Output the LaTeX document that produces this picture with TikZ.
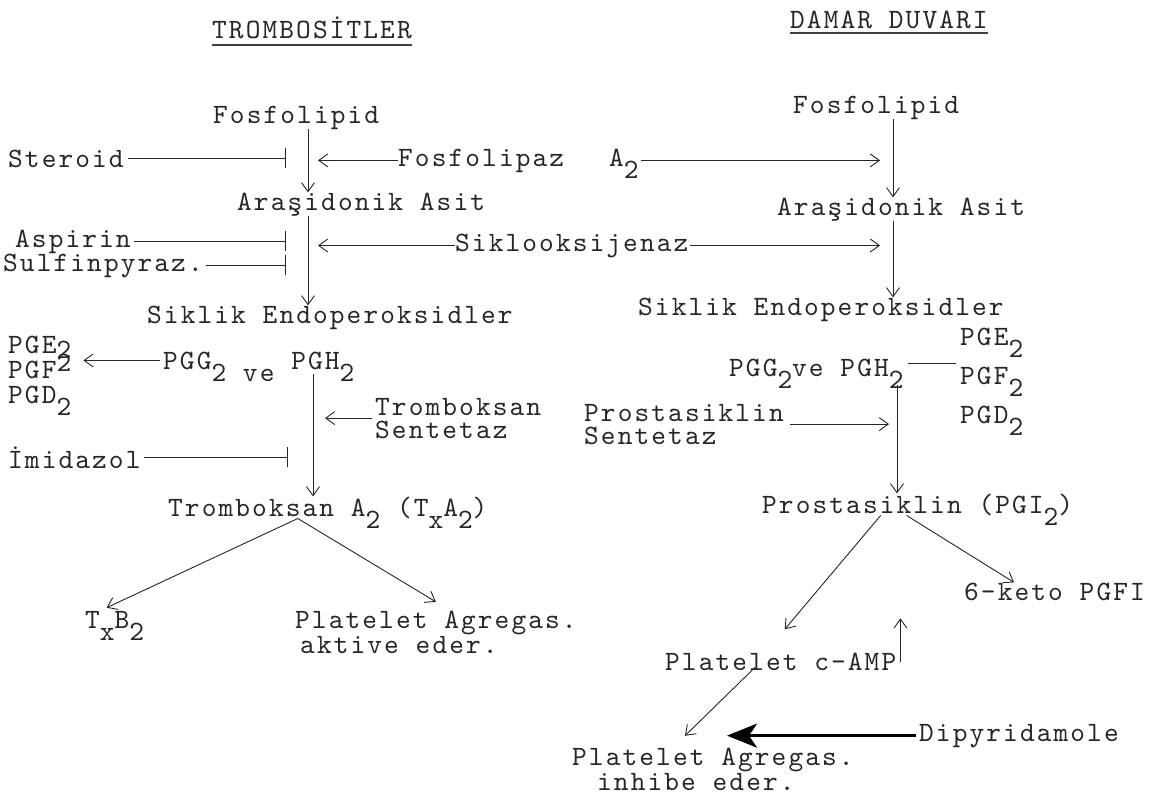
\documentclass[tikz,border=0pt]{standalone}
\usepackage{fontspec}
\usepackage{tikz}
\usetikzlibrary{arrows.meta}
\newfontfamily\tw{lmmono10-regular.otf}[LetterSpace=7.5]
\newcommand\dn[1]{\raisebox{-0.45em}[0pt][0pt]{#1}}
\newcommand\lo[1]{\raisebox{-0.2em}[0pt][0pt]{#1}}
\newcommand\up[1]{\raisebox{0.22em}[0pt][0pt]{#1}}

\begin{document}
\begin{tikzpicture}[x=1pt,y=-1pt,
  txt/.style={font=\tw\fontsize{28}{23}\selectfont,
              text=black!85, inner sep=0pt, anchor=base west, align=left},
  arrow/.style={-{Straight Barb[length=9pt,width=13pt]}, line width=0.9pt, black!85},
  block/.style={-{Bar[width=20pt]}, line width=0.9pt, black!85},
  heavy/.style={-{Stealth[length=30pt,width=24pt,inset=8pt]}, line width=3.5pt},
  plain/.style={line width=0.9pt, black!85},
  uline/.style={line width=1.6pt, black!75}
]
\useasboundingbox (0,0) rectangle (1164,798);
\coordinate (cL) at (308,0);  \coordinate (cL2) at (313,0);
\coordinate (cR) at (893,0);  \coordinate (cR2) at (897,0);
\coordinate (barA) at (286,0); \coordinate (barB) at (288,0);
\coordinate (tipL) at (318,0); \coordinate (tipL2) at (325,0);
\coordinate (tipR) at (880,0); \coordinate (tipR2) at (889,0);
\coordinate (tipD) at (727,0);

\node[txt] (titleL) at (212,38)  {TROMBOSİTLER};
\node[txt] (fosL)   at (213,123) {Fosfolipid};
\node[txt] (ster)   at (8,167)   {Steroid};
\node[txt] (fpz)    at (398,166) {Fosfolipaz\hspace{45pt}A\dn{2}};
\node[txt] (araL)   at (237,210) {Araşidonik Asit};
\node[txt] (asp)    at (15,247)  {Aspirin};
\node[txt] (sulf)   at (3,271)   {Sulfinpyraz.};
\node[txt] (cox)    at (455,251) {Siklooksijenaz};
\node[txt] (endoL)  at (147,323) {Siklik Endoperoksidler};
\node[txt] (pgeL)   at (8,403)   {PGE\lo{2}\\[2pt]PGF\up{2}\\[2pt]PGD\dn{2}};
\node[txt] (pggL)   at (163,369) {PGG\dn{2} \dn{ve} PGH\dn{2}};
\node[txt] (txs)    at (375,438) {Tromboksan\\Sentetaz};
\node[txt] (imid)   at (8,468)   {İmidazol};
\node[txt] (txa)    at (168,516) {Tromboksan A\dn{2} (T\dn{x}A\dn{2})};
\node[txt] (txb)    at (85,628)  {T\dn{x}B\dn{2}};
\node[txt] (aggL)   at (295,653) {Platelet Agregas.\\\hspace*{5pt}aktive eder.};

\node[txt] (titleR) at (790,28)  {DAMAR DUVARI};
\node[txt] (fosR)   at (793,113) {Fosfolipid};
\node[txt] (araR)   at (777,215) {Araşidonik Asit};
\node[txt] (endoR)  at (638,315) {Siklik Endoperoksidler};
\node[txt] (pgeR)   at (960,423) {PGE\dn{2}\\[16pt]PGF\dn{2}\\[16pt]PGD\dn{2}};
\node[txt] (pggR)   at (729,376) {PGG\dn{2}ve PGH\dn{2}};
\node[txt] (pgis)   at (584,444) {Prostasiklin\\Sentetaz};
\node[txt] (pgi)    at (762,513) {Prostasiklin (PGI\dn{2})};
\node[txt] (keto)   at (964,600) {6–keto PGFI};
\node[txt] (camp)   at (665,670) {Platelet c–AMP};
\node[txt] (dip)    at (919,741) {Dipyridamole};
\node[txt] (aggR)   at (572,790) {Platelet Agregas.\\\hspace*{25pt}inhibe eder.};

\draw[uline]([yshift=-7pt]titleL.base west)--([yshift=-7pt]titleL.base east);
\draw[uline]([yshift=-5pt]titleR.base west)--([yshift=-5pt]titleR.base east);

\draw[arrow](fosL.south -| cL)--(araL.north -| cL);
\draw[arrow](araL.south -| cL)--(endoL.north -| cL);
\draw[block,shorten <=4pt](ster.east)--(ster.east -| barA);
\draw[arrow](fpz.west)--(fpz.west -| tipL);
\draw[arrow,shorten <=2pt](fpz.east)--(fpz.east -| tipR);
\draw[block,shorten <=3pt](asp.east)--(asp.east -| barA);
\draw[block,shorten <=3pt](sulf.east)--(sulf.east -| barA);
\draw[arrow](cox.west)--(cox.west -| tipL);
\draw[arrow,shorten <=1pt](cox.east)--(cox.east -| tipR);
\draw[arrow,shorten <=3pt,shorten >=12pt](pggL.west)--(pggL.west -| pgeL.east);
\draw[arrow,shorten <=4pt](pggL.south -| cL2)--(txa.north -| cL2);
\draw[arrow,shorten <=3pt](txs.west)--(txs.west -| tipL2);
\draw[block,shorten <=3pt](imid.east)--(imid.east -| barB);
\draw[arrow]([xshift=-30pt]txa.south)--([xshift=-8pt,yshift=3pt]txb.north);
\draw[arrow]([xshift=-30pt]txa.south)--([yshift=9pt]aggL.north);

\draw[arrow](fosR.south -| cR)--(araR.north -| cR);
\draw[arrow](araR.south -| cR)--(endoR.north -| cR);
\draw[plain,shorten <=4pt,shorten >=4pt]([yshift=4pt]pggR.east)--([yshift=4pt]pggR.east -| pgeR.west);
\draw[arrow,shorten <=8pt](pggR.south -| cR2)--(pgi.north -| cR2);
\draw[arrow,shorten <=6pt](pgis.east)--(pgis.east -| tipR2);
\draw[arrow]([xshift=-37pt]pgi.south)--([xshift=4pt,yshift=23pt]camp.north);
\draw[arrow]([xshift=-11pt]pgi.south)--([xshift=50pt]keto.north west);
\draw[arrow]([xshift=4pt,yshift=8pt]camp.south east)--([xshift=4pt,yshift=34pt]camp.north east);
\draw[arrow]([xshift=90pt,yshift=3pt]camp.south west)--([xshift=-28pt,yshift=12pt]aggR.north);
\draw[heavy,shorten <=3pt](dip.west)--(dip.west -| tipD);
\end{tikzpicture}
\end{document}
